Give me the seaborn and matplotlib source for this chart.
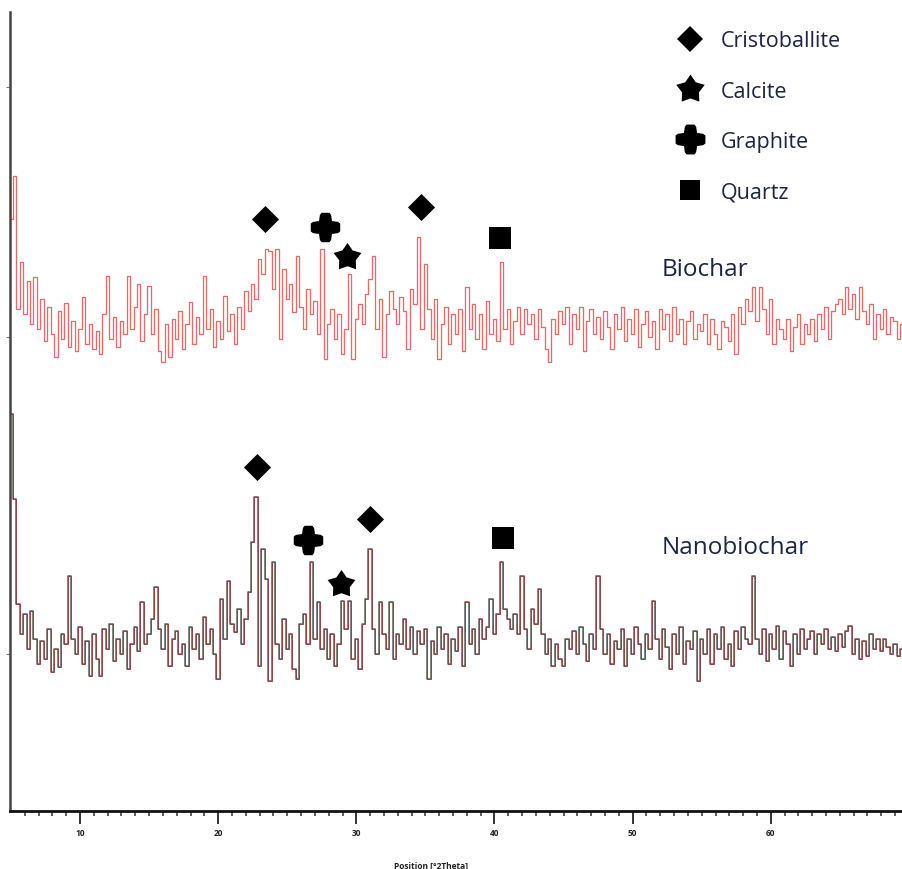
import numpy as np
import pandas as pd
import matplotlib
matplotlib.use("Agg")
import matplotlib.pyplot as plt
import seaborn as sns
from matplotlib.lines import Line2D
from matplotlib.path import Path

sns.set_theme(style="white")
plt.rcParams['font.family'] = ['Open Sans', 'DejaVu Sans']

# ---- data (2theta scan, 0.25 deg step) ----
two_theta = np.round(np.arange(5.0, 69.51, 0.25), 2)

biochar = [
    150, 193, 60, 107, 55, 88, 45, 92,
    40, 70, 28, 62, 35, 12, 58, 30,
    66, 22, 48, 18, 40, 72, 25, 45,
    20, 38, 15, 55, 93, 30, 52, 22,
    48, 35, 93, 40, 62, 85, 28, 55,
    83, 35, 60, 18, 7, 45, 12, 50,
    30, 58, 20, 45, 67, 25, 52, 35,
    93, 40, 60, 22, 48, 30, 73, 38,
    55, 25, 62, 40, 78, 58, 85, 70,
    110, 95, 120, 118, 80, 120, 30, 100,
    70, 85, 57, 113, 62, 40, 80, 55,
    68, 35, 120, 10, 45, 60, 30, 55,
    15, 40, 95, 10, 50, 65, 45, 75,
    90, 113, 40, 70, 12, 55, 78, 60,
    45, 72, 58, 20, 80, 65, 132, 40,
    105, 60, 30, 70, 10, 45, 62, 25,
    55, 35, 60, 18, 82, 40, 65, 30,
    55, 20, 68, 35, 50, 28, 107, 40,
    60, 25, 48, 62, 35, 60, 45, 55,
    30, 60, 42, 20, 7, 50, 35, 58,
    45, 62, 25, 55, 40, 62, 18, 48,
    60, 35, 52, 30, 58, 42, 20, 55,
    40, 62, 28, 50, 35, 60, 22, 45,
    58, 32, 48, 20, 60, 40, 55, 28,
    62, 35, 50, 25, 48, 58, 30, 45,
    38, 55, 25, 50, 35, 20, 48, 42,
    28, 55, 15, 62, 45, 70, 58, 82,
    48, 82, 60, 35, 70, 25, 50, 40,
    30, 50, 18, 42, 55, 25, 45, 35,
    50, 28, 55, 40, 62, 30, 58, 65,
    70, 55, 82, 60, 75, 50, 82, 58,
    45, 65, 30, 55, 40, 60, 35, 52,
    48, 30, 45,
]

nanobiochar = [
    275, 190, 85, 55, 75, 40, 78, 50,
    25, 48, 30, 60, 17, 40, 22, 55,
    45, 113, 50, 35, 62, 25, 48, 13,
    55, 30, 13, 60, 40, 65, 28, 50,
    35, 58, 20, 45, 62, 38, 87, 45,
    55, 70, 102, 60, 40, 65, 23, 50,
    58, 35, 45, 23, 62, 40, 55, 30,
    72, 45, 60, 35, 10, 90, 50, 108,
    65, 57, 80, 45, 70, 97, 147, 192,
    23, 140, 110, 8, 127, 45, 30, 70,
    40, 55, 20, 10, 65, 75, 45, 127,
    50, 87, 40, 60, 30, 55, 23, 45,
    88, 60, 88, 30, 50, 20, 65, 90,
    140, 60, 35, 87, 55, 40, 87, 30,
    55, 45, 70, 40, 62, 35, 58, 45,
    60, 10, 48, 35, 62, 40, 55, 25,
    50, 38, 62, 23, 87, 45, 60, 35,
    70, 50, 62, 90, 55, 75, 127, 80,
    70, 60, 75, 55, 113, 60, 40, 80,
    65, 100, 55, 35, 50, 23, 45, 30,
    23, 50, 40, 58, 35, 62, 45, 28,
    55, 40, 113, 60, 35, 55, 25, 48,
    40, 60, 23, 50, 35, 62, 45, 30,
    55, 40, 88, 50, 30, 60, 42, 20,
    55, 35, 62, 25, 48, 40, 58, 8,
    50, 35, 60, 25, 55, 40, 62, 30,
    45, 23, 58, 40, 62, 50, 45, 113,
    50, 35, 60, 28, 55, 40, 63, 30,
    58, 45, 23, 55, 35, 60, 40, 50,
    58, 35, 55, 45, 60, 40, 52, 38,
    55, 42, 58, 63, 35, 50, 30, 48,
    33, 55, 40, 50, 38, 50, 42, 35,
    45, 33, 40,
]

phases = ["Cristoballite", "Calcite", "Graphite", "Quartz"]
biochar_peaks = {"Cristoballite": [23.4, 34.7], "Graphite": [27.75],
                 "Calcite": [29.35], "Quartz": [40.4]}
nano_peaks = {"Cristoballite": [22.8, 31.0], "Graphite": [26.5],
              "Calcite": [28.9], "Quartz": [40.65]}

# ---- styling ----
BIO_OFFSET = 442
NANO_OFFSET = 122
gap_map = {"Cristoballite": 30, "Calcite": 17, "Graphite": 22, "Quartz": 24}
text_color = "#1c2541"

star5 = Path.unit_regular_star(5, 0.6)
a = 0.38
c = 0.2
plus_verts = [(-0.7 * a, 1), (0.7 * a, 1), (a, 0.85), (a + c * 0.3, a + c * 0.3),
              (0.85, a), (1, 0.7 * a), (1, -0.7 * a), (0.85, -a),
              (a + c * 0.3, -a - c * 0.3), (a, -0.85), (0.7 * a, -1), (-0.7 * a, -1),
              (-a, -0.85), (-a - c * 0.3, -a - c * 0.3), (-0.85, -a), (-1, -0.7 * a),
              (-1, 0.7 * a), (-0.85, a), (-a - c * 0.3, a + c * 0.3), (-a, 0.85),
              (-0.7 * a, 1)]
fat_plus = Path(plus_verts, closed=True)

marker_map = {"Cristoballite": "D", "Calcite": star5, "Graphite": fat_plus, "Quartz": "s"}
size_map = {"Cristoballite": 190, "Calcite": 440, "Graphite": 450, "Quartz": 245}
msize_map = {"Cristoballite": 12.8, "Calcite": 21.5, "Graphite": 21.5, "Quartz": 15}

fig = plt.figure(figsize=(9.02, 8.70), dpi=100)
ax = fig.add_axes([10 / 902, 58 / 870, 892 / 902, 799 / 870])

df = pd.DataFrame({"two_theta": two_theta,
                   "biochar": np.array(biochar) + BIO_OFFSET,
                   "nanobiochar": np.array(nanobiochar) + NANO_OFFSET})

sns.lineplot(data=df, x="two_theta", y="biochar", ax=ax, color="#ea8c8c",
             lw=1.0, drawstyle="steps-mid", estimator=None, sort=False)
sns.lineplot(data=df, x="two_theta", y="biochar", ax=ax, color="#e31a1a",
             lw=0.6, alpha=0.35, drawstyle="steps-mid", estimator=None, sort=False)
sns.lineplot(data=df, x="two_theta", y="nanobiochar", ax=ax, color="#6d6d6d",
             lw=1.2, drawstyle="steps-mid", estimator=None, sort=False)
sns.lineplot(data=df, x="two_theta", y="nanobiochar", ax=ax, color="#9b1c1c",
             lw=0.7, alpha=0.6, drawstyle="steps-mid", estimator=None, sort=False)

def local_max(series, t):
    m = (df["two_theta"] >= t - 0.4) & (df["two_theta"] <= t + 0.4)
    return df.loc[m, series].max()

rows = []
for series, peaks in (("biochar", biochar_peaks), ("nanobiochar", nano_peaks)):
    for ph, ts in peaks.items():
        for t in ts:
            rows.append({"phase": ph, "two_theta": t,
                         "y": local_max(series, t) + gap_map[ph]})
mk = pd.DataFrame(rows)
for ph in phases:
    sub = mk[mk["phase"] == ph]
    sns.scatterplot(data=sub, x="two_theta", y="y", ax=ax, marker=marker_map[ph],
                    s=size_map[ph], color="black", edgecolor="black", linewidth=0,
                    legend=False, zorder=5)

handles = [Line2D([], [], marker=marker_map[p], color="black", linestyle="none",
                  markersize=msize_map[p], markeredgewidth=0) for p in phases]
leg = ax.legend(handles, phases, loc="upper left", bbox_to_anchor=(0.75, 0.977),
                frameon=False, labelspacing=1.36, handletextpad=0.95,
                handlelength=1.0, borderpad=0, borderaxespad=0,
                prop={"family": "Open Sans", "size": 15.5})
for t in leg.get_texts():
    t.set_color(text_color)

ax.text(0.731, 0.678, "Biochar", transform=ax.transAxes, fontsize=17.5,
        color=text_color, va="center", ha="left")
ax.text(0.731, 0.330, "Nanobiochar", transform=ax.transAxes, fontsize=17.5,
        color=text_color, va="center", ha="left")

ax.set_xlim(4.93, 69.5)
ax.set_ylim(0, 799)
ax.set_xticks([10, 20, 30, 40, 50, 60])
ax.set_xticks(np.arange(6, 70, 1), minor=True)
ax.set_yticks([157, 474, 724])
ax.set_yticklabels([])
ax.tick_params(axis="x", which="major", direction="out", length=9, width=1.3,
               color="#222222", labelsize=6, pad=3, bottom=True)
ax.tick_params(axis="x", which="minor", direction="out", length=3.5, width=1.1,
               color="#333333", bottom=True)
ax.tick_params(axis="y", which="major", direction="out", length=3, width=0.8,
               color="#777777", left=True)
for lab in ax.get_xticklabels():
    lab.set_fontweight("bold")
    lab.set_color("#222222")

ax.set_xlabel("Position [°2Theta]", fontsize=6, fontweight="bold", color="#222222")
ax.xaxis.set_label_coords(0.472, -0.062)
ax.set_ylabel("")

for s in ["top", "right"]:
    ax.spines[s].set_visible(False)
ax.spines["left"].set_color("#444444")
ax.spines["left"].set_linewidth(1.8)
ax.spines["bottom"].set_color("#111111")
ax.spines["bottom"].set_linewidth(2.0)

fig.savefig("out.png", dpi=100)
